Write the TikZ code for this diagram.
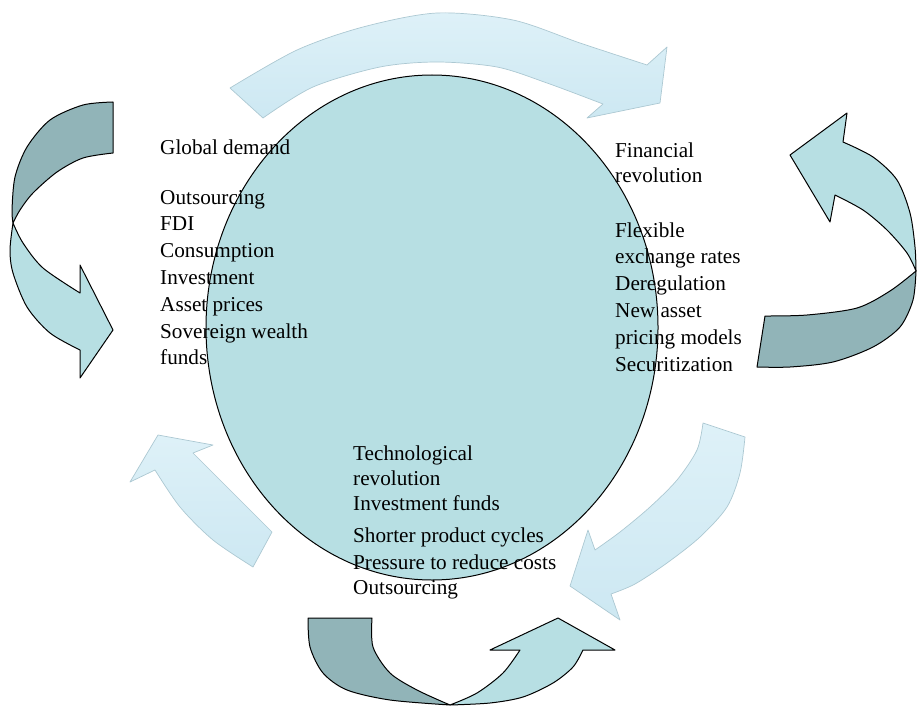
\documentclass[tikz,border=0pt]{standalone}
\usepackage{fontspec}
\setmainfont{Liberation Serif}
\usetikzlibrary{shapes.geometric}
\definecolor{ellfill}{RGB}{183,223,227}
\definecolor{darkteal}{RGB}{145,180,184}
\definecolor{lightteal}{RGB}{183,223,227}
\definecolor{softfill}{RGB}{205,232,242}
\definecolor{softtop}{RGB}{222,241,248}
\definecolor{softedge}{RGB}{172,200,210}
\tikzset{
  darkpart/.style={fill=darkteal, draw=black, line width=1pt, line join=round},
  lightpart/.style={fill=lightteal, draw=black, line width=1pt, line join=round},
  soft/.style={top color=softtop, bottom color=softfill, draw=softedge, line width=0.7pt, line join=round},
  label/.style={anchor=base west, align=left, inner sep=0pt, font={\fontsize{21.2}{26.8}\selectfont}}
}
\begin{document}
\begin{tikzpicture}[x=1pt,y=-1pt]
\useasboundingbox (0,0) rectangle (917,706);
% central ellipse
\node[ellipse, draw=black, line width=1pt, fill=ellfill, minimum width=452pt, minimum height=505pt, inner sep=0pt] (core) at (432,327.5) {};
% top soft arrow
\path[soft] plot[smooth] coordinates {(230,88) (297,50) (363,27) (437,13) (513,20) (580,43) (647,65)}
  -- (667,47) -- (660,103) -- (587,118) -- (603,104)
  -- plot[smooth] coordinates {(603,104) (547,83) (497,67) (437,62) (380,67) (313,87) (263,118)} -- cycle;
% bottom-right soft arrow
\path[soft] (703,423) -- (745,437)
  -- plot[smooth] coordinates {(745,437) (740,473) (727,507) (700,537) (667,563) (635,584) (611,594)}
  -- (620,620) -- (570,586) -- (588,530) -- (595,550)
  -- plot[smooth] coordinates {(595,550) (620,532) (650,507) (677,480) (697,450) (703,423)} -- cycle;
% bottom-left soft arrow
\path[soft] (158,435) -- (213,445) -- (193,453)
  -- plot[smooth] coordinates {(193,453) (230,490) (272,532)}
  -- (253,567)
  -- plot[smooth] coordinates {(253,567) (213,540) (180,507) (155,470)}
  -- (130,482) -- cycle;
% left outlined arrow
\path[darkpart] plot[smooth] coordinates {(113,102) (83,105) (50,120) (27,147) (15,177) (12,210) (13,223)}
  -- plot[smooth] coordinates {(13,223) (20,210) (33,193) (57,172) (83,158) (113,153)} -- cycle;
\path[lightpart] plot[smooth] coordinates {(13,223) (23,243) (43,268) (80,293)}
  -- (80,265) -- (113,330) -- (80,378) -- (80,350)
  -- plot[smooth] coordinates {(80,350) (50,333) (27,307) (13,273) (10,250) (13,223)} -- cycle;
% right outlined arrow
\path[lightpart] (790,155) -- (847,113) -- (843,142)
  -- plot[smooth] coordinates {(843,142) (873,157) (897,180) (910,213) (915,247) (916,271)}
  -- plot[smooth] coordinates {(916,271) (907,253) (887,230) (863,210) (835,195)}
  -- (830,222) -- cycle;
\path[darkpart] plot[smooth] coordinates {(916,271) (890,291) (857,308) (807,315) (765,316)}
  -- (757,367)
  -- plot[smooth] coordinates {(757,367) (790,367) (833,362) (873,347) (900,327) (913,300) (916,271)} -- cycle;
% bottom outlined arrow
\path[darkpart] (308,618) -- (372,618)
  -- plot[smooth] coordinates {(372,618) (373,647) (390,673) (417,690) (450,705)}
  -- plot[smooth] coordinates {(450,705) (390,700) (347,690) (323,673) (310,647) (308,618)} -- cycle;
\path[lightpart] plot[smooth] coordinates {(450,705) (477,693) (503,673) (520,650)}
  -- (490,650) -- (558,618) -- (615,650) -- (583,650)
  -- plot[smooth] coordinates {(583,650) (573,667) (553,683) (523,697) (490,703) (450,705)} -- cycle;
% texts (anchored at the baseline of their last line)
\node[label] (demand) at (160,364.8) {Global demand\\[23.2pt]Outsourcing\\FDI\\Consumption\\Investment\\Asset prices\\Sovereign wealth\\funds};
\node[label] (finance) at (615,371) {Financial\\[-1.8pt]revolution\\[28.2pt]Flexible\\exchange rates\\Deregulation\\New asset\\pricing models\\Securitization};
\node[label] (tech) at (353,594) {Technological\\[-1.8pt]revolution\\[-1.8pt]Investment funds\\[5.2pt]Shorter product cycles\\[0.2pt]Pressure to reduce costs\\[-1.8pt]Outsourcing};
\end{tikzpicture}
\end{document}
